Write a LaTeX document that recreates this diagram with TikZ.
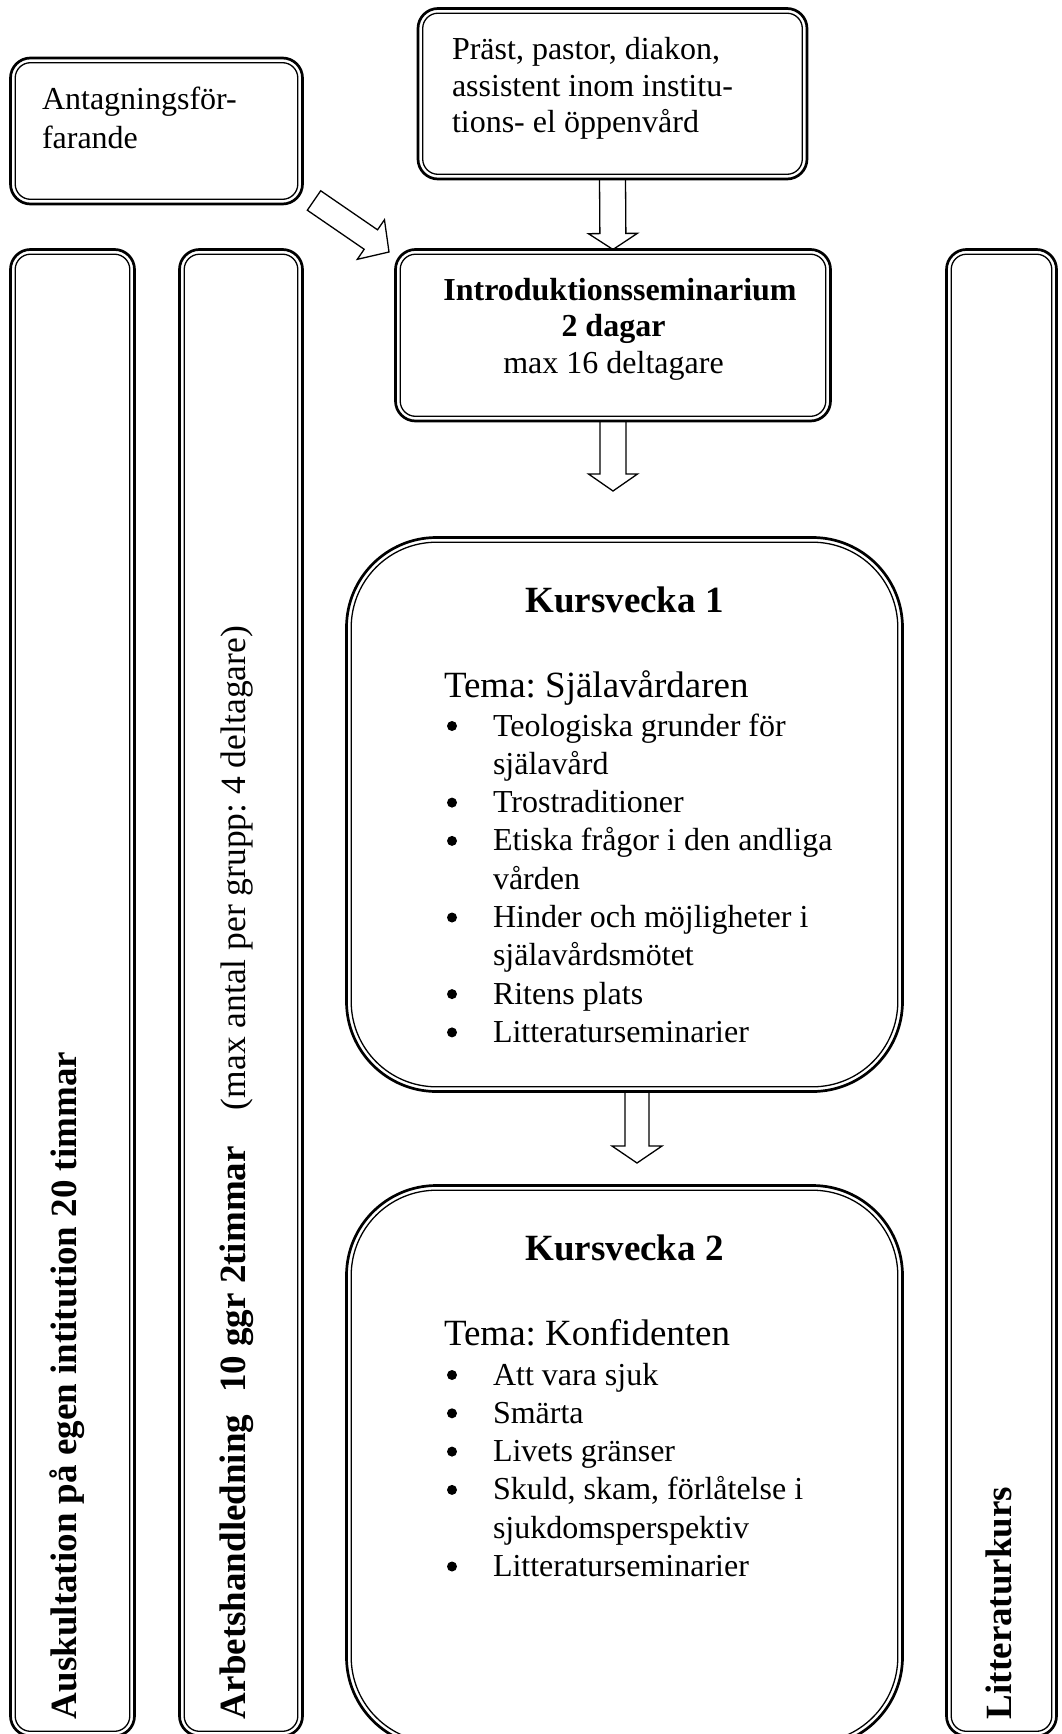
\documentclass[tikz,border=0pt]{standalone}
\usepackage{fontspec}
\setmainfont{Liberation Serif}
\usetikzlibrary{calc}
\frenchspacing
\newcommand{\bodyfont}[1]{\fontsize{32pt}{#1}\selectfont}
\newcommand{\bigfont}{\fontsize{37pt}{42pt}\selectfont}
\newcommand{\listfont}{\fontsize{32pt}{38.3pt}\selectfont}
\newcommand{\bul}{\makebox[47.5pt][l]{\hspace{1.5pt}\raisebox{5pt}{\tikz\fill[black] (0,0) circle[radius=5pt];}}}
\newcommand{\dbox}[6]{%
  \node[obox, rounded corners=#6pt, minimum width={(#4-#2)*1pt}, minimum height={(#5-#3)*1pt}] (#1) at ({(#2+#4)/2},{(#3+#5)/2}) {};
  \pgfmathsetmacro{\dboxri}{#6-4.7}%
  \draw[ibox, rounded corners=\dboxri pt] ([shift={(4.7,4.7)}]#1.north west) rectangle ([shift={(-4.7,-4.7)}]#1.south east);
}
\newcommand{\blockarr}[5]{%
  \coordinate (ba-b) at ($(#2)!#5!(#1)$);
  \draw[blockarrow] ($(#1)!#3!90:(#2)$) -- ($(ba-b)!#3!-90:(#1)$) -- ($(ba-b)!#4!-90:(#1)$) -- (#2)
    -- ($(ba-b)!#4!90:(#1)$) -- ($(ba-b)!#3!90:(#1)$) -- ($(#1)!#3!-90:(#2)$) -- cycle;
}
\begin{document}
\begin{tikzpicture}[x=1pt, y=-1pt,
  obox/.style={draw, line width=2.7pt, inner sep=0pt, outer sep=0pt},
  ibox/.style={draw, line width=1.3pt},
  blockarrow/.style={draw, line width=1.3pt, line join=miter},
  txt/.style={inner sep=0pt, outer sep=0pt, anchor=base west},
  ctxt/.style={inner sep=0pt, outer sep=0pt, anchor=base}]
\useasboundingbox (0,0) rectangle (1061,1734);
\fill[white] (0,0) rectangle (1061,1734);
\clip (0,0) rectangle (1061,1734);

% boxes
\dbox{antag}{10.5}{58}{302.5}{204}{20}
\dbox{prast}{418}{8.5}{807}{179}{20}
\dbox{intro}{395.5}{249.5}{830.5}{421}{20}
\dbox{colA}{10.5}{249.5}{134.5}{1736}{20}
\dbox{colB}{179.5}{249.5}{302.5}{1736}{20}
\dbox{colC}{946.5}{249.5}{1056.5}{1736}{20}
\dbox{kv1}{346.5}{537.5}{902.5}{1091.5}{90}
\dbox{kv2}{346.5}{1185.5}{902.5}{1747}{90}

% texts
\node[txt] (antagT) at (42,110) {\bodyfont{38.5pt}\begin{tabular}[t]{@{}l@{}}Antagningsför-\\farande\end{tabular}};
\node[txt] (prastT) at (452,60) {\bodyfont{36.5pt}\begin{tabular}[t]{@{}l@{}}Präst, pastor, diakon,\\assistent inom institu-\\tions- el öppenvård\end{tabular}};
\node[ctxt] (introT) at (613.5,300) {\bodyfont{36.5pt}\begin{tabular}[t]{@{}c@{}}\textbf{\hspace*{13pt}Introduktionsseminarium}\\\textbf{2 dagar}\\max 16 deltagare\end{tabular}};

\node[ctxt] (kv1T) at (624.5,612) {\bigfont\bfseries Kursvecka 1};
\node[txt] (kv1tema) at (444,697) {\bigfont Tema: Själavårdaren};
\node[txt] (kv1list) at (445.5,736) {\listfont\begin{tabular}[t]{@{}l@{}l@{}}
\bul & Teologiska grunder för\\
 & själavård\\
\bul & Trostraditioner\\
\bul & Etiska frågor i den andliga\\
 & vården\\
\bul & Hinder och möjligheter i\\
 & själavårdsmötet\\
\bul & Ritens plats\\
\bul & Litteraturseminarier
\end{tabular}};

\node[ctxt] (kv2T) at (624.5,1260) {\bigfont\bfseries Kursvecka 2};
\node[txt] (kv2tema) at (444,1345) {\bigfont Tema: Konfidenten};
\node[txt] (kv2list) at (445.5,1385) {\listfont\begin{tabular}[t]{@{}l@{}l@{}}
\bul & Att vara sjuk\\
\bul & Smärta\\
\bul & Livets gränser\\
\bul & Skuld, skam, förlåtelse i\\
 & sjukdomsperspektiv\\
\bul & Litteraturseminarier
\end{tabular}};

\node[txt, rotate=90] (auskT) at (76,1719) {\bigfont\bfseries Auskultation på egen intitution 20 timmar};
\node[txt, rotate=90] (arbT) at (245,1719) {\bigfont\textbf{Arbetshandledning\hspace{22pt}10 ggr 2timmar}\hspace{36pt}{\fontsize{35.5pt}{40pt}\selectfont(max antal per grupp: 4 deltagare)}};
\node[txt, rotate=90] (litT) at (1011,1719) {\bigfont\bfseries Litteraturkurs};

% block arrows
\coordinate (a2e) at ($(intro.south)+(0,70)$);
\coordinate (a3s) at ($(kv1.south)+(12.5,0)$);
\coordinate (a3e) at ($(kv1.south)+(12.5,71.5)$);
\coordinate (dtail) at (314,200.5);
\coordinate (dtip) at (389,252);
\blockarr{prast.south}{intro.north}{13pt}{24.5pt}{16pt}
\blockarr{intro.south}{a2e}{13pt}{24.5pt}{17pt}
\blockarr{a3s}{a3e}{12pt}{25pt}{17pt}
\blockarr{dtail}{dtip}{11.8pt}{24pt}{22pt}
\end{tikzpicture}
\end{document}
